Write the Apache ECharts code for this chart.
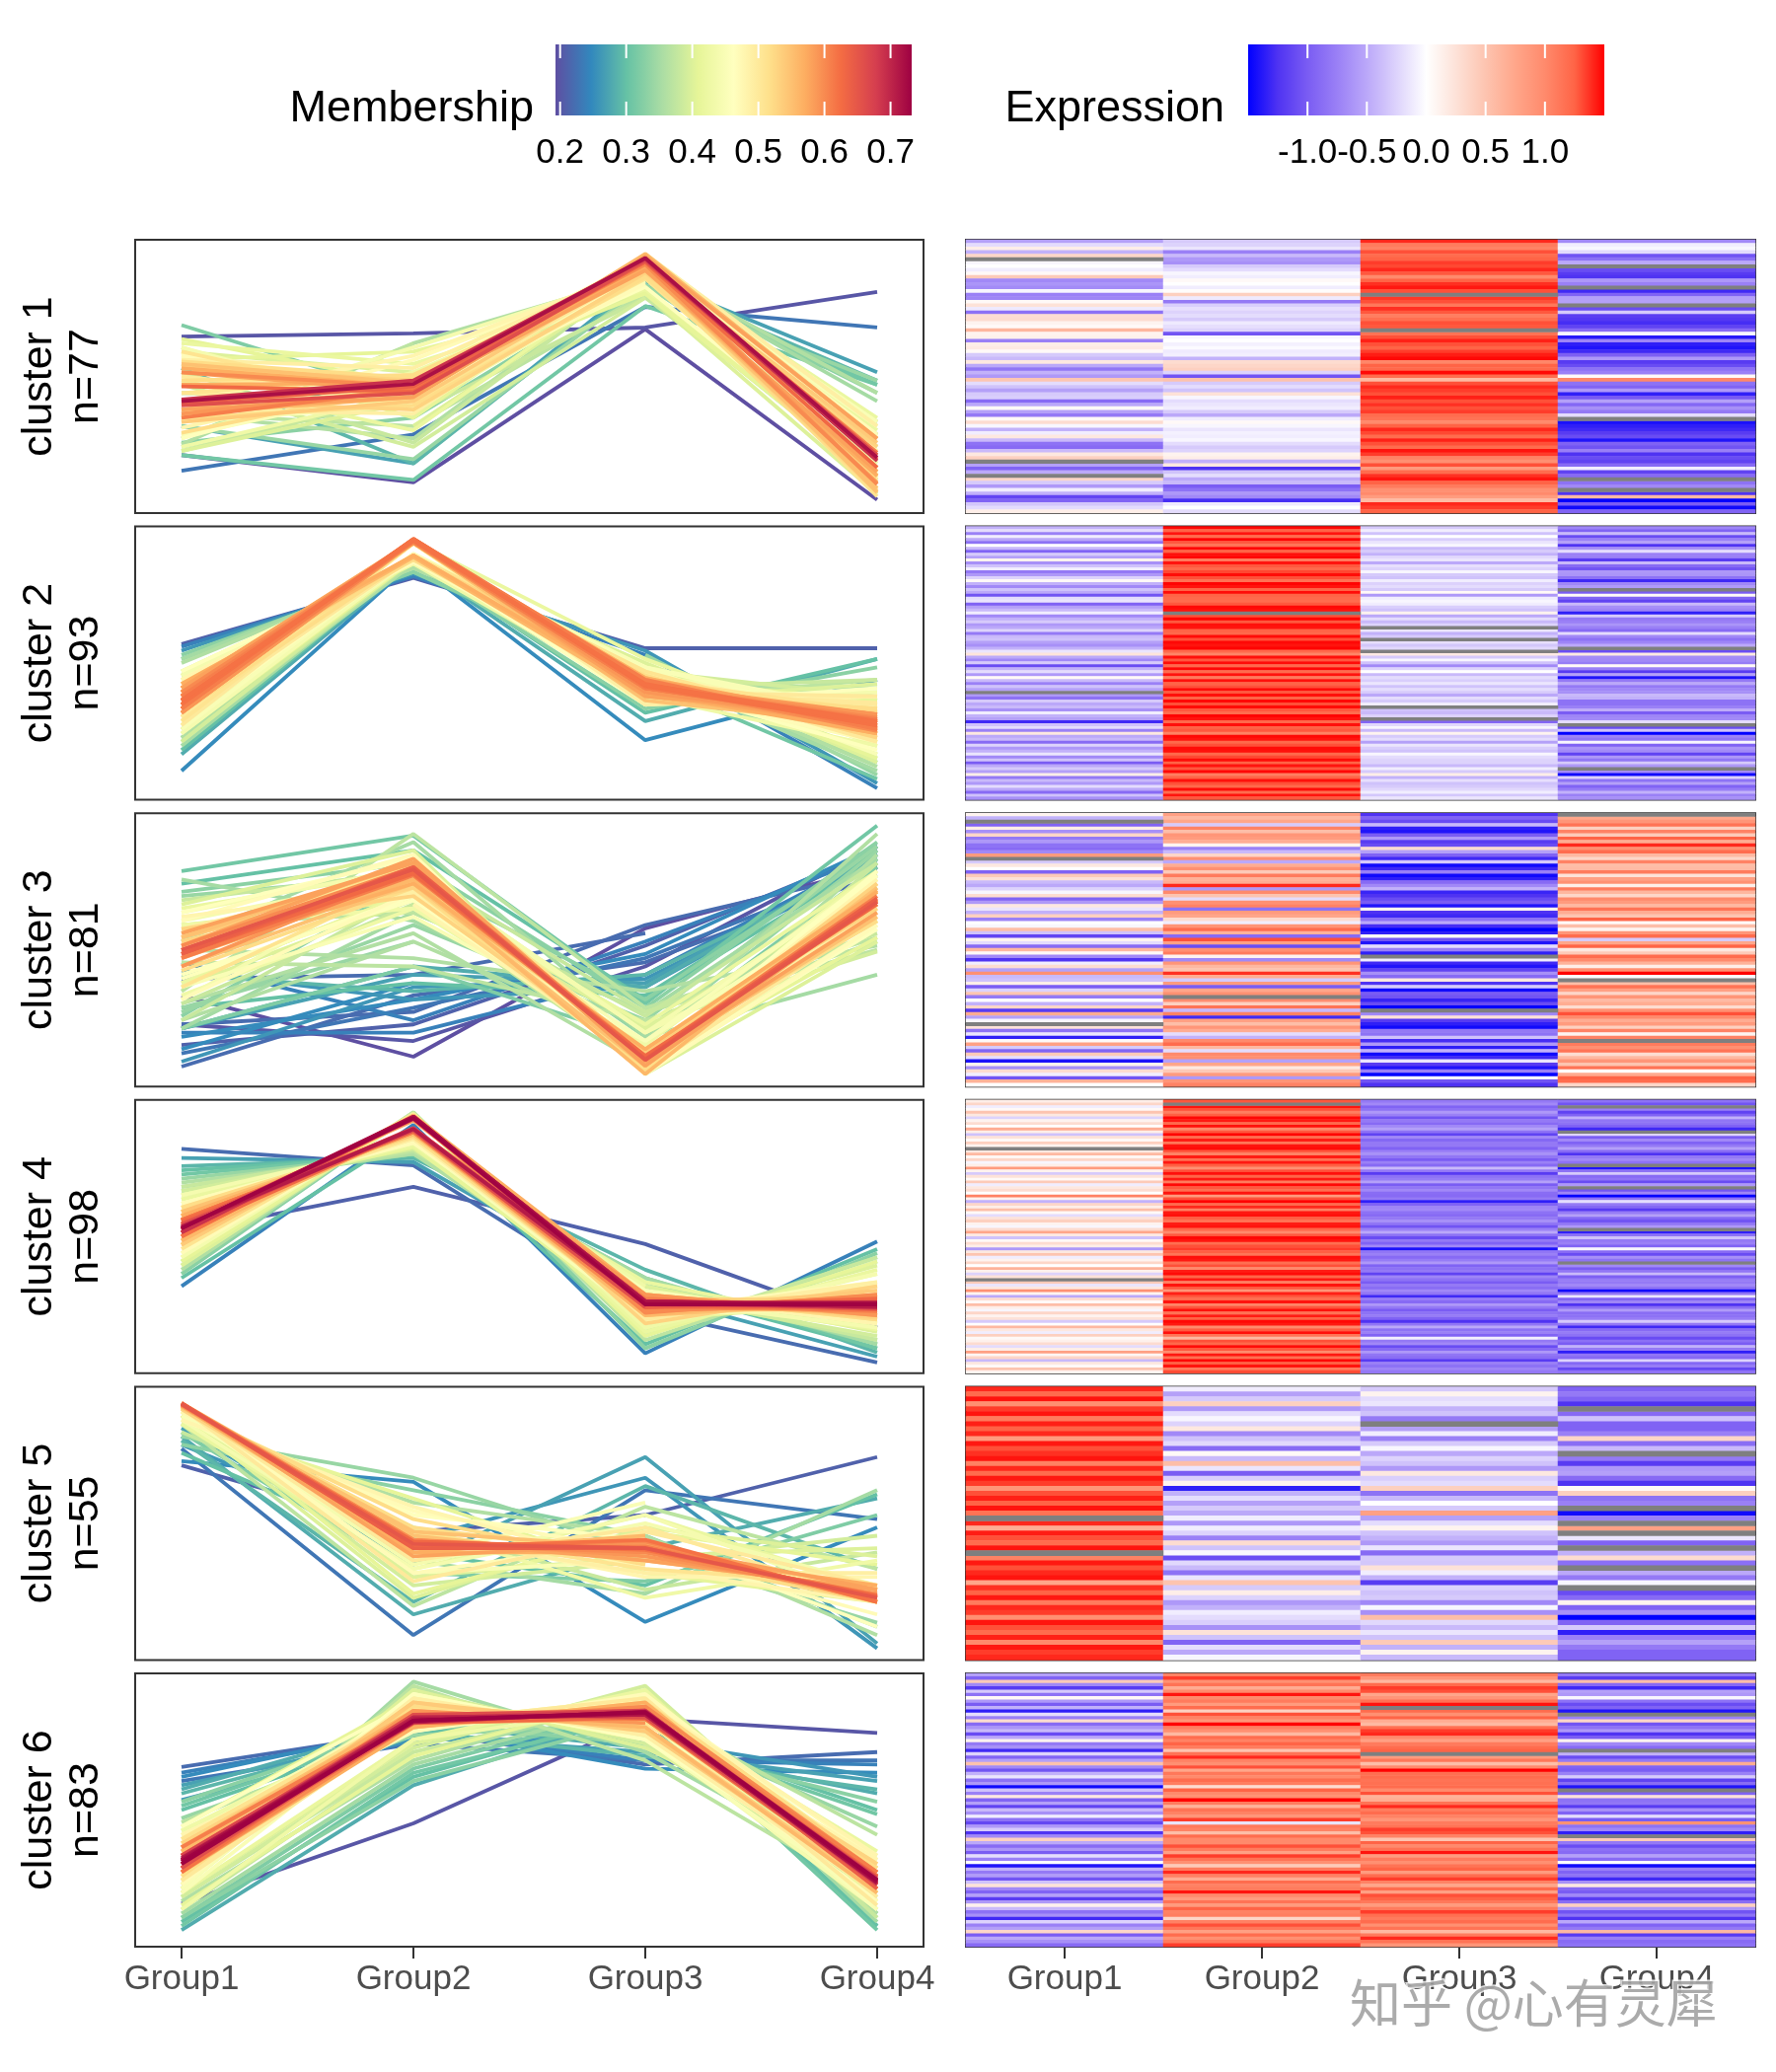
<!DOCTYPE html>
<html>
<head>
<meta charset="utf-8">
<script src="https://cdn.jsdelivr.net/npm/echarts@6/dist/echarts.min.js"></script>
<style>
html, body {margin: 0; padding: 0; background: #fff;}
#main {width: 1800px; height: 2100px;}
</style>
</head>
<body>
<div id="main"></div>
<script>
// 分组
var groups = ['Group1', 'Group2', 'Group3', 'Group4']
var clusterTitles = ['cluster 1', 'cluster 2', 'cluster 3', 'cluster 4', 'cluster 5', 'cluster 6']
var clusterCounts = ['n=77', 'n=93', 'n=81', 'n=98', 'n=55', 'n=83']

// 每行: [Group1, Group2, Group3, Group4, membership]，null 为缺失（灰色）
var cluster1 = [
    [-0.55,-0.30,1.40,-0.70,0.47],[-0.20,-0.25,1.10,-0.10,0.31],[0.15,-0.15,1.05,-0.05,0.34],[-0.45,-0.75,1.30,-0.20,0.36],
    [0.35,-0.40,1.20,-1.05,0.44],[null,-0.60,1.25,-0.85,0.40],[-0.05,-0.65,1.35,-0.50,0.42],[0.00,-0.30,1.32,null,0.50],
    [-0.10,-0.20,1.40,-1.10,0.58],[0.05,-0.05,1.28,-1.20,0.53],[0.45,-0.10,1.00,-1.25,0.41],[-0.70,0.05,1.25,-0.60,0.43],
    [-0.62,0.00,1.38,-0.75,0.48],[-0.68,-0.10,1.44,null,0.52],[-0.05,0.02,1.30,-1.30,0.52],[-0.75,0.40,null,-0.95,0.37],
    [-0.72,-0.12,1.36,-0.55,0.45],[0.05,-0.80,1.30,-0.55,0.38],[0.25,-0.28,1.12,null,0.47],[-0.12,-0.18,1.38,-1.10,0.63],
    [-0.85,-0.25,1.28,-0.30,0.35],[0.28,-0.20,1.08,-1.18,0.46],[0.30,-0.30,1.18,-1.22,0.51],[0.10,-0.12,1.30,-1.28,0.57],
    [0.05,-0.18,1.28,-1.15,0.58],[0.62,-0.25,null,-0.90,0.32],[0.10,-1.05,1.15,-0.05,0.29],[0.12,-0.05,1.30,-1.38,0.53],
    [-0.75,0.00,1.42,-0.72,0.46],[0.15,-0.08,1.30,-1.35,0.55],[0.18,-0.02,1.25,-1.40,0.52],[0.05,-0.12,1.35,-1.30,0.60],
    [-0.30,-0.09,1.43,-0.98,0.72],[-0.40,-0.45,1.48,-0.60,0.49],[0.20,0.30,1.02,-1.20,0.41],[-0.50,0.35,1.25,-1.10,0.44],
    [-0.82,0.40,1.22,-0.85,0.36],[-0.45,-0.25,1.48,-0.75,0.56],[-0.60,-1.05,1.20,0.05,0.27],[0.48,0.52,0.59,1.02,0.20],
    [-0.20,-0.30,1.30,-0.85,0.50],[-0.35,-0.20,1.40,-0.95,0.66],[-0.55,-0.35,1.35,-0.60,0.45],[-0.30,0.25,1.30,-1.35,0.48],
    [-0.28,-0.05,1.42,-1.02,0.69],[-0.90,-0.20,1.30,-0.55,0.38],[-0.50,-0.15,1.38,-0.92,0.61],[0.05,-0.10,1.30,-0.65,0.42],
    [-0.55,-0.30,1.35,-0.80,0.54],[-0.80,-0.50,1.20,-0.20,0.33],[0.05,-0.10,1.15,null,0.45],[0.30,0.05,1.00,-1.42,0.40],
    [-0.05,-0.05,1.25,-1.35,0.50],[-0.45,-0.15,1.40,-1.30,0.59],[-0.10,-0.08,1.32,-1.20,0.57],[0.20,-0.10,1.20,-1.10,0.47],
    [-0.40,-0.05,1.42,-1.40,0.55],[-0.85,-0.20,1.30,-0.95,0.43],[-0.90,-0.30,1.20,-1.05,0.40],[-0.40,-0.25,1.45,-0.75,0.58],
    [0.20,0.10,1.35,-1.25,0.49],[0.40,0.15,1.05,-1.10,0.42],[null,-0.45,0.95,-1.15,0.38],[-0.55,0.20,1.30,-0.90,0.47],
    [-0.95,-1.25,0.85,-0.10,0.31],[-0.50,-0.35,1.20,-1.15,0.52],[null,-0.20,1.38,-0.90,0.46],[0.35,-0.50,1.45,null,0.41],
    [-0.30,-0.40,1.25,-0.85,0.53],[-0.60,-1.00,1.10,-0.70,0.34],[-0.10,-0.85,0.95,null,0.39],[-0.45,-0.60,1.00,-1.25,0.37],
    [-1.14,-0.70,0.84,0.59,0.23],[-0.95,-1.28,0.57,-1.49,0.19],[-0.32,-0.12,1.40,-1.00,0.64],[-0.20,0.00,1.35,-1.45,0.51],
    [0.15,-0.20,1.25,-0.95,0.45]
]

var cluster2 = [
    [-0.45,1.48,-0.30,-0.72,0.60],[-0.20,1.25,-0.10,-0.95,0.48],[-0.75,1.45,-0.35,-0.40,0.50],[-0.10,1.20,0.00,-1.10,0.40],
    [-0.50,1.50,-0.28,-0.75,0.62],[-0.85,1.28,-0.15,-0.55,0.44],[0.00,1.15,-0.05,-1.25,0.36],[-0.40,1.48,-0.40,-0.65,0.58],
    [-0.95,1.25,-0.30,-0.20,0.38],[-0.30,1.46,-0.45,-0.75,0.55],[-0.55,1.50,-0.22,-0.78,0.61],[0.10,1.10,-0.15,-1.20,0.33],
    [-0.65,1.45,-0.50,-0.40,0.47],[-0.35,1.28,-0.18,-0.90,0.53],[-0.10,1.22,-0.25,-1.05,0.46],[-0.80,1.32,-0.05,-0.60,0.45],
    [-0.60,1.47,-0.30,-0.62,0.59],[-0.25,1.30,-0.35,-0.85,0.57],[0.05,1.15,-0.10,-1.30,0.35],[-0.45,1.49,-0.26,-0.70,0.62],
    [-0.70,1.45,-0.20,-0.58,0.51],[-0.35,1.25,-0.30,null,0.52],[-0.50,1.47,0.05,-1.00,0.42],[-1.05,1.25,-0.60,0.05,0.30],
    [-0.20,1.22,-0.10,-0.95,0.43],[-0.15,1.20,-0.05,-1.15,0.41],[-0.95,1.28,-0.10,-0.40,0.39],[-0.55,1.48,-0.28,-0.66,0.60],
    [-0.40,1.46,-0.35,-0.72,0.59],[-0.10,null,0.10,-1.35,0.34],[-0.70,1.30,-0.50,-0.30,0.46],[-0.45,1.50,-0.20,-0.80,0.61],
    [-0.30,1.28,-0.40,-0.75,0.56],[-0.60,1.46,-0.25,-0.62,0.58],[-0.50,1.45,null,-0.75,0.54],[-0.25,1.25,-0.15,-0.90,0.52],
    [-0.80,1.22,-0.45,-0.20,0.37],[-0.40,1.47,-0.30,-0.70,0.61],[-0.35,1.30,null,-0.85,0.53],[-0.55,1.48,-0.18,-0.72,0.57],
    [-0.65,1.45,-0.32,-0.50,0.50],[-0.45,1.49,-0.22,null,0.55],[-0.15,1.22,null,-1.10,0.44],[0.23,1.03,0.18,0.18,0.21],
    [-0.50,1.46,-0.30,-0.68,0.60],[-0.70,1.28,-0.05,-0.70,0.45],[-0.30,1.47,-0.35,-0.78,0.58],[-1.10,1.22,-0.70,0.05,0.28],
    [-0.45,1.48,-0.25,-0.75,0.62],[-0.20,1.20,0.00,-1.20,0.40],[-0.60,1.45,-0.40,-0.55,0.52],[0.05,1.10,-0.20,-1.40,0.31],
    [-0.40,1.46,-0.28,-0.80,0.59],[-0.75,1.25,-0.15,-0.50,0.42],[-0.35,1.30,-0.35,-0.80,0.56],[-0.55,1.47,-0.20,-0.70,0.58],
    [null,1.28,-0.30,-0.65,0.48],[-0.60,1.46,-0.50,-0.40,0.49],[-0.85,1.25,-0.20,-0.45,0.41],[-0.30,1.48,-0.30,-0.85,0.57],
    [-0.50,1.30,-0.10,-0.85,0.51],[-0.40,1.47,null,-0.75,0.56],[-0.65,1.28,-0.35,-0.48,0.50],[-0.10,1.20,-0.40,-1.00,0.43],
    [-0.45,1.49,-0.26,-0.72,0.62],[-0.55,1.45,null,-0.68,0.54],[-1.30,1.22,-0.93,-0.20,0.25],[-0.35,1.46,-0.22,null,0.55],
    [-0.20,1.25,-0.05,-1.10,0.45],[-0.75,1.28,-0.40,-0.35,0.44],[0.20,1.05,0.10,-1.51,0.24],[-0.50,1.48,-0.30,-0.72,0.61],
    [-0.40,1.45,-0.20,-0.82,0.57],[-0.90,1.22,-0.55,-0.05,0.33],[-0.25,1.30,-0.15,-0.95,0.50],[-0.60,1.47,-0.28,-0.62,0.59],
    [-0.45,1.46,-0.35,-0.68,0.58],[-0.15,1.22,-0.05,-1.15,0.39],[-0.70,1.32,-0.20,-0.60,0.47],[-0.35,1.47,-0.25,-0.82,0.60],
    [-1.00,1.25,-0.25,-0.30,0.35],[-0.50,1.45,-0.40,-0.60,0.53],[-0.30,1.28,-0.10,null,0.49],[-0.55,1.48,-0.30,-0.68,0.61],
    [0.15,1.08,0.15,-1.45,0.26],[-0.80,1.25,-0.45,-0.25,0.40],[-0.40,1.46,-0.18,-0.85,0.56],[-0.60,1.30,-0.35,-0.55,0.52],
    [-0.20,1.22,-0.30,-0.95,0.47],[-0.50,1.47,-0.22,-0.78,0.60],[-0.90,1.20,-0.10,-0.45,0.36],[-0.35,1.45,-0.32,-0.75,0.57],
    [-0.65,1.28,-0.15,-0.65,0.48]
]

var cluster3 = [
    [0.10,0.80,-1.25,null,0.50],[-0.45,0.60,-0.95,0.75,0.40],[null,0.75,-1.10,0.90,0.45],[-0.95,-0.30,-0.40,1.15,0.27],
    [0.15,1.05,-1.35,0.40,0.55],[-0.65,0.55,-1.40,1.05,0.38],[0.35,0.90,-1.00,0.45,0.44],[-0.80,0.85,-0.60,1.25,0.33],
    [-0.60,0.70,-1.20,0.70,0.47],[-0.85,0.10,-1.10,1.40,0.36],[-0.90,-0.75,0.30,0.95,0.22],[-0.70,-0.40,-0.55,1.20,0.30],
    [0.85,0.35,-0.95,0.60,0.35],[null,0.95,-1.30,0.35,0.52],[-0.30,-0.50,-0.30,1.05,0.29],[0.20,0.70,-1.45,0.55,0.49],
    [0.00,0.95,-1.30,0.58,0.62],[-0.95,0.45,-0.75,1.10,0.35],[0.45,1.10,-1.45,0.25,0.46],[0.25,0.65,-1.35,0.80,0.53],
    [-0.40,0.70,-0.90,0.95,0.42],[-0.50,1.40,-0.70,0.15,0.37],[-0.25,-0.60,-0.45,1.10,0.26],[-0.05,1.00,-1.32,0.62,0.64],
    [0.30,0.50,-1.25,0.35,0.43],[-0.95,-0.20,-1.10,1.00,0.32],[-0.60,0.95,-1.00,0.85,0.44],[0.20,1.05,-1.40,0.60,0.58],
    [-0.15,-0.85,0.10,1.15,0.24],[-0.45,0.85,-1.25,0.70,0.51],[0.40,0.75,-1.30,0.50,0.48],[-0.75,0.30,-0.85,1.25,0.34],
    [0.00,-0.10,-0.50,0.05,0.36],[-0.05,0.92,-1.28,0.55,0.63],[0.55,1.20,-1.50,0.10,0.40],[-0.35,0.65,-1.35,0.90,0.46],
    [-1.15,-0.90,0.05,1.20,0.21],[0.10,1.30,-1.05,-0.30,0.35],[-0.20,0.80,-1.40,0.75,0.55],[-0.90,-1.10,-0.20,1.25,0.20],
    [0.60,0.95,-0.75,0.20,0.38],[0.05,1.10,-1.35,0.45,0.58],[-0.70,0.10,null,1.20,0.34],[-1.25,-0.70,-0.10,1.00,0.23],
    [-0.10,0.90,-1.30,0.65,0.61],[0.30,0.60,-1.40,0.15,0.41],[-0.55,0.50,-1.15,0.95,0.43],[0.95,1.38,-0.65,1.50,0.31],
    [-0.40,0.70,-0.90,-0.02,0.39],[-0.35,-0.30,0.20,null,0.22],[0.15,0.85,-1.25,0.55,0.54],[-1.00,-1.00,-0.30,1.15,0.24],
    [-0.25,0.75,-1.45,0.80,0.52],[0.50,0.95,-1.00,0.35,0.42],[-0.80,null,-1.05,0.90,0.35],[0.00,0.97,-1.33,0.58,0.65],
    [-0.45,0.40,-1.10,0.70,0.45],[0.35,1.15,-1.50,0.30,0.47],[-1.20,-0.40,null,0.95,0.25],[0.70,1.05,-0.70,1.30,0.33],
    [-0.55,-1.29,0.26,1.00,0.19],[-0.05,0.80,-1.20,0.70,0.57],[null,0.55,-1.35,0.85,0.48],[0.25,0.90,-1.45,0.40,0.50],
    [-0.85,0.70,-0.80,1.05,0.38],[-0.15,-0.20,-0.85,0.10,0.37],[-1.35,-0.45,-0.35,1.05,0.26],[0.05,1.00,-1.28,null,0.60],
    [0.80,1.20,-0.60,1.10,0.30],[-0.30,0.60,-1.35,0.95,0.46],[-0.95,-0.20,-0.45,1.15,0.28],[0.45,1.00,-1.45,0.30,0.44],
    [-0.20,0.95,-1.30,0.60,0.59],[-1.41,-0.55,-0.15,0.90,0.22],[0.10,0.75,-1.20,0.50,0.53],[-0.65,0.20,-1.40,1.15,0.36],
    [0.30,0.45,-0.75,0.00,0.37],[-0.10,0.85,-1.50,0.72,0.56],[-1.05,-0.60,-0.05,1.25,0.25],[0.65,0.90,-1.05,1.20,0.34],
    [0.00,1.05,-1.25,0.35,0.51]
]

var cluster4 = [
    [0.15,1.28,-0.80,-0.85,0.58],[0.35,null,-0.70,-1.05,0.46],[-0.10,1.45,-0.95,null,0.52],[0.05,1.30,-0.85,-0.75,0.63],
    [0.50,1.08,-0.60,-1.15,0.40],[0.20,1.26,-0.75,-0.95,0.55],[-0.25,1.48,-1.05,-0.45,0.44],[0.10,1.44,-0.80,-0.82,0.70],
    [0.30,1.22,-0.90,-0.85,0.50],[0.00,1.46,-0.70,-0.95,0.57],[0.70,1.00,-0.55,-1.30,0.34],[0.15,1.28,-0.85,null,0.66],
    [-0.35,1.50,-1.15,-0.25,0.38],[0.25,1.20,-0.70,-1.00,0.51],[0.05,1.43,-0.92,-0.70,0.60],[0.40,1.13,-0.80,-0.95,0.47],
    [0.10,1.45,-0.80,-0.80,0.72],[null,1.47,-0.95,-0.55,0.49],[0.20,1.28,-0.75,-0.90,0.61],[0.60,1.05,-0.65,-1.25,0.38],
    [0.08,1.43,-0.82,-0.80,0.68],[0.35,1.16,-1.00,-0.70,0.45],[-0.05,1.44,-0.75,-0.85,0.56],[0.15,1.26,-0.90,null,0.59],
    [0.85,0.95,-0.40,-1.40,0.29],[0.10,1.30,-0.80,-0.85,0.65],[-0.30,1.46,-1.20,-0.30,0.41],[0.25,1.24,-0.85,-0.90,0.54],
    [0.05,1.44,-0.78,-0.83,0.69],[0.45,1.10,-0.55,-1.10,0.42],[-0.10,1.48,-1.00,-0.60,0.50],[0.20,1.28,-0.82,null,0.62],
    [0.30,1.18,-0.70,-1.05,0.48],[0.00,1.45,-0.88,-0.72,0.60],[1.06,0.86,-0.90,-1.52,0.22],[0.12,1.30,-0.80,-0.84,0.71],
    [-0.45,1.50,-1.35,-0.20,0.33],[0.35,1.21,-0.95,-0.80,0.52],[0.15,1.40,-0.72,-0.92,0.58],[0.55,1.06,-0.70,-1.20,0.39],
    [0.05,1.44,-0.85,-0.78,0.64],[-0.20,1.46,-0.90,-0.55,0.47],[0.25,1.26,-0.80,-0.92,0.57],[0.40,1.16,-0.65,-1.05,0.45],
    [0.10,1.43,-0.82,-0.82,0.73],[-0.05,1.45,-1.05,-0.60,0.53],[0.30,1.23,-0.75,null,0.55],[0.75,1.00,-0.50,-1.35,0.31],
    [0.18,1.28,-0.85,-0.85,0.63],[-0.35,1.48,-1.10,-0.35,0.40],[0.05,1.45,-0.80,-0.80,0.67],[0.30,1.18,-0.95,-0.75,0.49],
    [0.15,1.30,-0.70,-0.95,0.59],[-0.60,1.35,-1.41,-0.06,0.24],[0.20,1.26,-0.82,-0.90,0.61],[0.50,1.13,-0.75,-1.10,0.44],
    [-0.10,1.46,-0.90,-0.65,0.54],[0.10,1.44,-0.78,-0.84,0.70],[0.35,1.18,-0.60,null,0.43],[0.00,1.30,-0.95,-0.70,0.56],
    [0.65,1.00,-0.85,-1.00,0.36],[0.12,1.43,-0.80,-0.82,0.66],[-0.25,1.47,-1.15,-0.40,0.42],[0.25,1.24,-0.72,-0.98,0.53],
    [null,1.44,-0.85,-0.78,0.62],[0.45,1.08,-1.00,-0.80,0.41],[-0.15,1.45,-0.80,-0.70,0.51],[0.20,1.28,-0.88,-0.85,0.60],
    [0.95,0.90,-0.70,-1.45,0.27],[0.10,1.42,-0.82,-0.83,0.69],[-0.50,1.28,-1.30,-0.15,0.30],[0.30,1.20,-0.78,-0.95,0.50],
    [0.05,1.45,-0.90,-0.72,0.58],[0.55,1.03,-0.60,-1.25,0.37],[0.15,1.29,-0.80,-0.88,0.64],[-0.05,1.46,-1.00,-0.58,0.48],
    [0.35,1.16,-0.85,-0.88,0.46],[0.10,1.43,-0.78,-0.85,0.71],[0.25,1.25,-0.95,-0.78,0.55],[-0.30,1.48,-1.25,-0.30,0.37],
    [0.00,1.44,-0.82,-0.80,0.62],[0.60,1.00,-0.50,-1.30,0.35],[0.20,1.27,-0.85,-0.90,0.57],[-0.10,1.46,-0.75,-0.78,0.53],
    [0.40,1.14,-0.95,-0.85,0.45],[0.05,0.60,-0.09,-1.10,0.21],[0.12,1.30,-0.80,-0.86,0.68],[0.30,1.22,-0.70,-1.00,0.52],
    [-0.20,1.47,-1.10,-0.45,0.43],[0.15,1.28,-0.90,-0.80,0.60],[0.80,0.98,-0.60,-1.35,0.30],[0.08,1.44,-0.82,-0.82,0.66],
    [0.35,1.18,-0.88,-0.90,0.49],[-0.40,1.49,-1.20,-0.25,0.36],[0.20,1.26,-0.75,-0.92,0.56],[0.05,1.45,-0.85,-0.78,0.61],
    [0.50,1.10,-0.72,-1.12,0.42],[0.10,1.31,-0.80,-0.84,0.67]
]

var cluster5 = [
    [1.40,-0.10,-0.30,-0.95,0.55],[1.20,-0.55,0.10,-0.80,0.42],[1.45,-0.30,-0.20,-0.95,0.62],[0.95,0.40,-0.15,-1.25,0.33],
    [1.35,-0.60,-0.45,null,0.45],[1.45,-0.20,-0.35,-0.90,0.60],[1.10,-0.05,-0.80,-0.35,0.38],[1.42,-0.25,null,-0.95,0.57],
    [1.25,0.20,-0.55,-0.95,0.48],[1.40,-0.70,-0.10,-0.75,0.50],[0.85,-0.35,-0.75,0.35,0.30],[1.44,-0.22,-0.30,-0.88,0.63],
    [1.30,-0.90,-0.05,-0.40,0.40],[1.38,0.05,-0.50,null,0.52],[1.45,-0.40,-0.25,-0.80,0.58],[1.05,0.55,-0.35,-1.20,0.34],
    [1.40,-0.15,-0.60,-0.60,0.49],[1.20,-1.00,0.20,-0.55,0.37],[1.44,-0.28,-0.28,-0.90,0.61],[1.35,0.10,-0.20,-1.25,0.46],
    [0.90,-1.35,0.40,0.05,0.23],[1.30,-0.45,-0.85,0.40,0.35],[1.42,-0.20,-0.40,-0.85,0.59],[1.25,-0.55,0.00,-0.75,0.44],
    [1.45,-0.30,-0.30,null,0.64],[1.15,-0.50,0.80,-1.45,0.27],[null,-0.10,-0.55,-0.75,0.51],[1.40,-0.60,-0.20,null,0.47],
    [0.70,-0.10,0.10,0.80,0.21],[1.43,-0.25,-0.35,null,0.60],[1.30,-0.75,-0.45,-0.15,0.39],[1.20,0.30,-0.60,-0.95,0.41],
    [1.45,-0.35,-0.15,null,0.56],[null,-0.05,-0.90,-0.45,0.43],[1.05,-1.10,-0.30,0.30,0.28],[1.44,-0.22,-0.32,-0.87,0.62],
    [1.30,-0.40,0.25,null,0.45],[1.40,-0.85,-0.10,-0.50,0.41],[1.45,-0.15,-0.45,-0.80,0.55],[0.75,0.50,-1.19,-0.05,0.25],
    [1.38,-0.30,-0.25,null,0.53],[1.25,0.15,-0.35,-1.10,0.47],[1.44,-0.25,-0.30,-0.90,0.65],[1.10,-0.60,-0.70,0.10,0.32],
    [1.40,-0.45,-0.05,-0.95,0.50],[1.35,-0.10,-0.65,-0.65,0.48],[0.95,-0.20,0.55,-1.51,0.26],[1.45,-0.28,-0.22,-0.95,0.60],
    [1.30,-0.65,-0.40,-0.30,0.40],[1.20,0.25,-0.15,-1.35,0.36],[1.42,-0.35,-0.35,-0.75,0.57],[1.00,-0.95,0.45,-0.55,0.29],
    [1.44,-0.20,-0.45,-0.80,0.58],[1.35,-0.50,0.10,-0.95,0.44],[1.40,-0.05,-0.40,-0.95,0.52]
]

var cluster6 = [
    [-0.55,1.05,1.10,-0.80,0.58],[-0.95,1.35,0.90,-1.20,0.44],[0.45,0.95,0.60,0.55,0.24],[-0.70,1.15,1.20,-0.90,0.66],
    [-1.20,0.70,1.35,-1.30,0.38],[-0.30,1.00,1.30,-0.55,0.48],[-0.85,1.45,0.75,-0.60,0.40],[0.05,1.00,0.90,-0.05,0.31],
    [-0.60,1.10,1.15,-0.85,0.71],[-1.00,0.85,1.45,-1.10,0.42],[-0.45,1.20,null,-0.95,0.55],[-1.35,0.40,1.20,-1.40,0.30],
    [-0.20,1.30,0.95,null,0.46],[-0.75,1.05,1.25,-0.75,0.60],[0.30,0.90,0.70,0.35,0.27],[-0.90,1.50,0.60,-1.05,0.37],
    [-0.62,1.08,1.18,-0.85,0.73],[-0.40,0.95,1.35,-0.60,0.47],[-1.10,0.60,1.40,-1.25,0.36],[-0.50,1.20,1.00,-1.00,0.56],
    [0.10,1.05,0.80,0.10,0.33],[-0.80,1.25,1.10,-0.70,0.52],[-0.65,1.10,1.20,-0.90,0.68],[-1.30,0.50,1.25,null,0.32],
    [-0.25,1.15,null,-0.45,0.43],[-0.95,1.40,0.85,-1.10,0.45],[-0.55,1.05,1.12,-0.80,0.63],[0.52,0.95,0.55,0.70,0.22],
    [-0.70,1.30,1.00,-0.95,0.54],[-1.05,0.75,1.50,-1.00,0.39],[-0.45,1.12,1.18,-0.75,0.61],[-0.15,1.00,1.20,-0.30,0.37],
    [-0.85,1.20,1.15,-1.15,0.50],[-0.60,1.08,1.17,-0.88,0.72],[-1.45,0.30,1.20,-1.40,0.28],[-0.35,1.25,1.00,null,0.45],
    [-0.75,1.00,1.30,-0.95,0.57],[0.20,0.95,0.65,0.25,0.29],[-0.95,1.55,0.70,-0.85,0.35],[-0.55,1.10,1.15,-0.82,0.67],
    [-1.15,0.65,1.40,-1.20,0.41],[-0.40,1.15,1.10,-0.65,0.53],[-0.65,1.05,1.20,-0.95,0.64],[-0.10,0.90,1.05,-0.20,0.34],
    [-0.85,1.35,0.90,-1.00,0.49],[-1.13,-0.16,1.10,0.93,0.20],[-0.60,1.12,1.15,-0.85,0.70],[-0.30,1.05,1.35,-0.70,0.44],
    [-1.25,0.55,1.30,-1.35,0.35],[-0.70,1.20,1.05,null,0.59],[0.40,1.00,0.50,0.45,0.25],[-0.50,1.00,1.25,-0.80,0.55],
    [-0.90,1.30,1.00,-1.10,0.47],[-0.62,1.09,1.16,-0.86,0.69],[-1.00,0.80,1.45,-0.90,0.40],[-0.20,1.35,0.85,-0.55,0.41],
    [-0.75,1.15,1.10,-0.90,0.62],[0.00,0.95,0.95,0.00,0.30],[-1.40,0.45,1.15,-1.45,0.31],[-0.45,1.10,1.25,-0.75,0.56],
    [-0.80,1.40,0.85,-0.95,0.46],[-0.58,1.06,1.19,-0.84,0.71],[-1.05,0.70,1.35,-1.30,0.38],[-0.35,1.20,1.05,-0.65,0.51],
    [0.25,1.05,0.75,0.20,0.28],[-0.70,1.10,1.20,-0.90,0.65],[-0.95,1.45,0.80,-1.00,0.39],[-0.55,1.00,1.30,-0.70,0.52],
    [-1.20,0.85,1.25,-1.20,0.43],[-0.60,1.15,1.12,-0.88,0.66],[0.12,0.85,0.85,0.40,0.26],[-0.40,1.25,1.10,-0.60,0.48],
    [-0.85,1.05,1.35,-1.05,0.50],[-0.65,1.08,1.18,-0.85,0.74],[-1.30,0.35,1.10,-1.25,0.33],[-0.25,1.05,1.20,-0.50,0.42],
    [-0.75,1.30,0.95,-0.95,0.54],[-0.55,1.12,1.15,-0.80,0.63],[0.35,0.80,0.60,0.60,0.23],[-1.00,1.20,1.10,-1.20,0.45],
    [-0.50,0.95,1.40,-0.75,0.47],[-0.65,1.10,1.15,-0.90,0.60],[-0.90,1.35,0.90,-0.85,0.44]
]

var clusters = [cluster1, cluster2, cluster3, cluster4, cluster5, cluster6]

// 图例刻度
var memTicks = [0.2, 0.3, 0.4, 0.5, 0.6, 0.7]
var exprTicks = [-1.0, -0.5, 0.0, 0.5, 1.0]
var memLimits = [0.193, 0.732]
var exprLimits = [-1.5, 1.5]

// 颜色
var spectral = ['#5E4FA2', '#3288BD', '#66C2A5', '#ABDDA4', '#E6F598', '#FFFFBF', '#FEE08B', '#FDAE61', '#F46D43', '#D53E4F', '#9E0142']
// -1.5 ~ 1.5 每 0.25 一档
var exprColors = ['#0000FF', '#4F33F2', '#7A5CF3', '#9A80F6', '#BBA8F9', '#DDD3FC', '#FFFFFF', '#FDE2D8', '#FDC4B0', '#FFA68A', '#FF8A6C', '#FF6446', '#FF0000']

var FONT = '"Liberation Sans", Arial, Helvetica, sans-serif'

// 布局
var lineLeft = 137, lineWidth = 799
var heatLeft = 979, heatWidth = 800
var panelTop = 243, panelPitch = 290.6, panelHeight = 277

function hexRgb (h) {
    return [parseInt(h.slice(1, 3), 16), parseInt(h.slice(3, 5), 16), parseInt(h.slice(5, 7), 16)]
}
// membership 取色
function memColor (m) {
    var t = (m - memLimits[0]) / (memLimits[1] - memLimits[0])
    t = Math.max(0, Math.min(1, t))
    var p = t * (spectral.length - 1)
    var i = Math.min(Math.floor(p), spectral.length - 2)
    var f = p - i
    var a = hexRgb(spectral[i]), b = hexRgb(spectral[i + 1])
    return 'rgb(' + Math.round(a[0] + (b[0] - a[0]) * f) + ',' + Math.round(a[1] + (b[1] - a[1]) * f) + ',' + Math.round(a[2] + (b[2] - a[2]) * f) + ')'
}

var grids = [], xAxes = [], yAxes = [], heatSeries = [], naSeries = [], lineSeries = [], graphics = []

clusters.forEach(function (rows, ci) {
    var top = panelTop + ci * panelPitch
    var last = ci === clusters.length - 1
    var gl = ci * 2, gh = ci * 2 + 1

    grids.push({left: lineLeft, top: top, width: lineWidth, height: panelHeight, show: true, borderColor: '#333333', borderWidth: 2, backgroundColor: 'transparent'})
    grids.push({left: heatLeft, top: top, width: heatWidth, height: panelHeight, show: true, borderColor: '#333333', borderWidth: 2, backgroundColor: 'transparent'})

    var labelStyle = {show: last, fontSize: 35, color: '#4D4D4D', fontFamily: FONT, margin: 16}
    var tickStyle = {show: last, length: 12, lineStyle: {color: '#333333', width: 2}}

    xAxes.push({
        gridIndex: gl, type: 'value', min: 0.8, max: 4.2, position: 'bottom',
        axisLine: {show: false, onZero: false}, splitLine: {show: false},
        axisTick: Object.assign({customValues: [1, 2, 3, 4]}, tickStyle),
        axisLabel: Object.assign({customValues: [1, 2, 3, 4], formatter: function (v) { return groups[Math.round(v) - 1] }}, labelStyle)
    })
    yAxes.push({gridIndex: gl, type: 'value', min: -1.65, max: 1.65, show: false, splitLine: {show: false}})

    xAxes.push({
        gridIndex: gh, type: 'category', data: groups, position: 'bottom',
        axisLine: {show: false, onZero: false}, splitLine: {show: false},
        axisTick: Object.assign({alignWithLabel: true}, tickStyle),
        axisLabel: Object.assign({}, labelStyle)
    })
    var rowIds = rows.map(function (r, i) { return String(i) })
    yAxes.push({gridIndex: gh, type: 'category', data: rowIds, inverse: true, show: false, splitLine: {show: false}})

    // 热图
    var heat = [], na = []
    rows.forEach(function (r, i) {
        for (var g = 0; g < 4; g++) {
            if (r[g] === null) na.push([g, i, 0])
            else heat.push([g, i, r[g]])
        }
    })
    heatSeries.push({type: 'heatmap', xAxisIndex: gh, yAxisIndex: gh, data: heat, silent: true, progressive: 0, itemStyle: {borderWidth: 0}})
    naSeries.push({type: 'heatmap', xAxisIndex: gh, yAxisIndex: gh, data: na, silent: true, progressive: 0, itemStyle: {color: '#7F7F7F', borderWidth: 0}})

    // 折线，按 membership 从低到高绘制
    rows.slice().sort(function (a, b) { return a[4] - b[4] }).forEach(function (r) {
        lineSeries.push({
            type: 'line', xAxisIndex: gl, yAxisIndex: gl, silent: true, symbol: 'none',
            data: [1, 2, 3, 4].map(function (x) { return [x, r[x - 1] === null ? '-' : r[x - 1]] }),
            lineStyle: {width: 3.8, color: memColor(r[4])}
        })
    })

    // 聚类标签
    graphics.push({
        type: 'text', x: 64, y: top + panelHeight / 2, rotation: Math.PI / 2,
        style: {text: clusterTitles[ci] + '\n' + clusterCounts[ci], font: '43px ' + FONT, fill: '#000', textAlign: 'center', textVerticalAlign: 'middle', lineHeight: 47}
    })
})

var series = heatSeries.concat(naSeries).concat(lineSeries)
var heatIdx = heatSeries.map(function (s, i) { return i })

// 图例色条
function colorBar (left, colors, ticks, limits, fmt) {
    var top = 45, w = 361, h = 72
    var stops = colors.map(function (c, i) { return {offset: i / (colors.length - 1), color: c} })
    graphics.push({type: 'rect', shape: {x: left, y: top, width: w, height: h}, style: {fill: new echarts.graphic.LinearGradient(0, 0, 1, 0, stops)}})
    ticks.forEach(function (v) {
        var x = left + (v - limits[0]) / (limits[1] - limits[0]) * w
        graphics.push({type: 'line', shape: {x1: x, y1: top, x2: x, y2: top + 14}, style: {stroke: '#fff', lineWidth: 2}})
        graphics.push({type: 'line', shape: {x1: x, y1: top + h - 14, x2: x, y2: top + h}, style: {stroke: '#fff', lineWidth: 2}})
        graphics.push({type: 'text', x: x, y: 155, style: {text: fmt(v), font: '35px ' + FONT, fill: '#000', textAlign: 'center', textVerticalAlign: 'middle'}})
    })
}
colorBar(563, spectral, memTicks, memLimits, function (v) { return v.toFixed(1) })
colorBar(1265, exprColors, exprTicks, exprLimits, function (v) { return v.toFixed(1) })
graphics.push({type: 'text', x: 541, y: 111, style: {text: 'Membership', font: '45px ' + FONT, fill: '#000', textAlign: 'right', textVerticalAlign: 'middle'}})
graphics.push({type: 'text', x: 1241, y: 111, style: {text: 'Expression', font: '45px ' + FONT, fill: '#000', textAlign: 'right', textVerticalAlign: 'middle'}})

// 水印
graphics.push({type: 'text', x: 1368, y: 2030, z: 100, style: {text: '知乎 @心有灵犀', font: '52px "Noto Sans CJK SC", sans-serif', fill: 'rgba(150,150,150,0.8)', stroke: 'rgba(255,255,255,0.8)', lineWidth: 3, textAlign: 'left', textVerticalAlign: 'middle'}})

var option = {
    animation: false,
    backgroundColor: '#ffffff',
    grid: grids,
    xAxis: xAxes,
    yAxis: yAxes,
    visualMap: [{type: 'continuous', min: exprLimits[0], max: exprLimits[1], dimension: 2, seriesIndex: heatIdx, show: false, inRange: {color: exprColors}}],
    series: series,
    graphic: graphics
}

var myChart = echarts.init(document.getElementById('main'))
myChart.setOption(option)
</script>
</body>
</html>
